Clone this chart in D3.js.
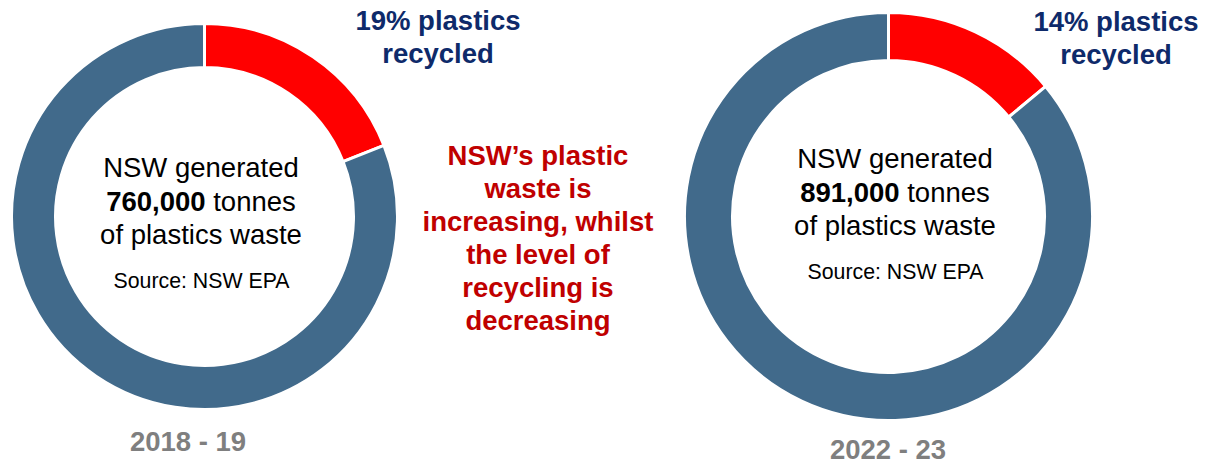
<!DOCTYPE html>
<html>
<head>
<meta charset='utf-8'>
<style>
body { margin: 0; background: #fff; }
svg { display: block; font-family: "Liberation Sans", Arial, sans-serif; }
</style>
</head>
<body>
<svg width="1215" height="464"></svg>
<script src="https://cdn.jsdelivr.net/npm/d3@7/dist/d3.min.js"></script>
<script>

// data
var years = ["2018 - 19", "2022 - 23"];
var recycledPct = [19, 14];
var tonnes = ["760,000", "891,000"];
var source = "Source: NSW EPA";
var middleNote = ["NSW\u2019s plastic", "waste is", "increasing, whilst", "the level of", "recycling is", "decreasing"];

var sliceColor = d3.scaleOrdinal()
    .domain(["recycled", "other"])
    .range(["#ff0000", "#416a8b"]);

// layout for each donut
var donuts = [
  {cx: 204.5, cy: 216.5, outer: 193, inner: 149, textX: 201, textY: 177, labelX: 438, labelY: 30, yearX: 188, yearY: 451},
  {cx: 888.5, cy: 216.5, outer: 204, inner: 156, textX: 895, textY: 168, labelX: 1116, labelY: 31, yearX: 888, yearY: 459}
];

var svg = d3.select('svg');

var pie = d3.pie()
    .sort(null)
    .value(function(d) { return d.value; });

donuts.forEach(function(L, i) {
  var slices = [
    {key: "recycled", value: recycledPct[i]},
    {key: "other", value: 100 - recycledPct[i]}
  ];
  var arc = d3.arc().innerRadius(L.inner).outerRadius(L.outer);

  var g = svg.append('g').attr('transform', 'translate(' + L.cx + ',' + L.cy + ')');
  g.selectAll('path')
    .data(pie(slices))
    .enter().append('path')
      .attr('d', arc)
      .attr('fill', function(d) { return sliceColor(d.data.key); })
      .attr('stroke', '#fff')
      .attr('stroke-width', 3);

  // centre text
  var t = svg.append('text')
      .attr('text-anchor', 'middle')
      .attr('font-size', 27.5)
      .attr('fill', '#000');
  t.append('tspan').attr('x', L.textX).attr('y', L.textY).text('NSW generated');
  var l2 = t.append('tspan').attr('x', L.textX).attr('y', L.textY + 33.5);
  l2.append('tspan').attr('font-weight', 'bold').text(tonnes[i]);
  l2.append('tspan').text(' tonnes');
  t.append('tspan').attr('x', L.textX).attr('y', L.textY + 67).text('of plastics waste');

  svg.append('text')
      .attr('x', L.textX + 0.5).attr('y', L.textY + 110.5)
      .attr('text-anchor', 'middle')
      .attr('font-size', 21.3)
      .text(source);

  // recycled label
  var lab = svg.append('text')
      .attr('text-anchor', 'middle')
      .attr('font-size', 27.5)
      .attr('font-weight', 'bold')
      .attr('fill', '#0e2a6a');
  lab.append('tspan').attr('x', L.labelX).attr('y', L.labelY).text(recycledPct[i] + '% plastics');
  lab.append('tspan').attr('x', L.labelX).attr('y', L.labelY + 33).text('recycled');

  // year
  svg.append('text')
      .attr('x', L.yearX).attr('y', L.yearY)
      .attr('text-anchor', 'middle')
      .attr('font-size', 27.5)
      .attr('font-weight', 'bold')
      .attr('fill', '#7f7f7f')
      .text(years[i]);
});

// middle note
svg.append('text')
    .attr('text-anchor', 'middle')
    .attr('font-size', 27.5)
    .attr('font-weight', 'bold')
    .attr('fill', '#c00000')
  .selectAll('tspan')
  .data(middleNote)
  .enter().append('tspan')
    .attr('x', 538)
    .attr('y', function(d, i) { return 165 + i * 33; })
    .text(function(d) { return d; });

</script>
</body>
</html>
